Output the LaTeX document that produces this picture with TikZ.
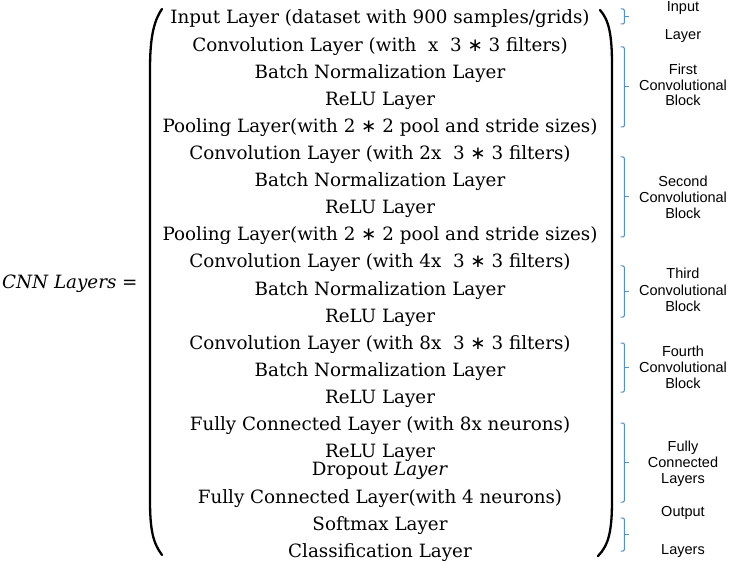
\documentclass[tikz,border=0pt]{standalone}
\usepackage{fontspec}
\setmainfont{DejaVu Serif}
\newfontfamily\lblfont{Liberation Sans}
\newfontfamily\symfont{DejaVu Sans}
\definecolor{bracecol}{RGB}{84,146,196}
\newcommand{\mulop}{{\symfont ∗}}
\begin{document}
\begin{tikzpicture}[x=1pt,y=-1pt,
  row/.style={anchor=base,inner sep=0pt,font=\fontsize{18.3}{21}\selectfont},
  lbl/.style={anchor=base,inner sep=0pt,font=\lblfont\fontsize{14.5}{17}\selectfont},
  paren/.style={line width=2.3pt,line cap=round},
  brc/.style={draw=bracecol,line width=1pt,rounded corners=1.2pt}]
\useasboundingbox (0,0) rectangle (736,561);
% left-hand side
\node[anchor=base west,inner sep=0pt,font=\fontsize{18.3}{21}\selectfont] (lhs) at (2,289) {\textit{CNN Layers} =};
% rows
\node[row] (r1)  at (380,24)    {Input Layer (dataset with 900 samples/grids)};
\node[row] (r2)  at (380,51.1)  {Convolution Layer (with \ x \ 3 \mulop{} 3 filters)};
\node[row] (r3)  at (380,78.2)  {Batch Normalization Layer};
\node[row] (r4)  at (380,105.3) {ReLU Layer};
\node[row] (r5)  at (380,132.4) {Pooling Layer(with 2 \mulop{} 2 pool and stride sizes)};
\node[row] (r6)  at (380,159.5) {Convolution Layer (with 2x \ 3 \mulop{} 3 filters)};
\node[row] (r7)  at (380,186.6) {Batch Normalization Layer};
\node[row] (r8)  at (380,213.7) {ReLU Layer};
\node[row] (r9)  at (380,240.8) {Pooling Layer(with 2 \mulop{} 2 pool and stride sizes)};
\node[row] (r10) at (380,267.9) {Convolution Layer (with 4x \ 3 \mulop{} 3 filters)};
\node[row] (r11) at (380,295)   {Batch Normalization Layer};
\node[row] (r12) at (380,322.1) {ReLU Layer};
\node[row] (r13) at (380,349.2) {Convolution Layer (with 8x \ 3 \mulop{} 3 filters)};
\node[row] (r14) at (380,376.3) {Batch Normalization Layer};
\node[row] (r15) at (380,403.4) {ReLU Layer};
\node[row] (r16) at (380,430)   {Fully Connected Layer (with 8x neurons)};
\node[row] (r17) at (380,457)   {ReLU Layer};
\node[row] (r18) at (380,475)   {Dropout \textit{Layer}};
\node[row] (r19) at (380,503)   {Fully Connected Layer(with 4 neurons)};
\node[row] (r20) at (380,530)   {Softmax Layer};
\node[row] (r21) at (380,557)   {Classification Layer};
% big parentheses
\draw[paren] (162,9) .. controls (153,22) and (150,40) .. (150,70) -- (150,500) .. controls (150,530) and (153,543) .. (162,555);
\draw[paren] (600,10) .. controls (609,20) and (612,35) .. (612,65) -- (612,500) .. controls (612,530) and (609,545) .. (598,556);
% blue braces
\foreach \t/\b in {9/24, 47/127, 157/237, 266/317, 343/392, 423/502, 518/551}{
  \draw[brc] (620.7,\t) -- (624.3,\t) -- (624.3,\b) -- (620.7,\b);
  \draw[draw=bracecol,line width=1pt] (624.3,{(\t+\b)/2}) -- (629,{(\t+\b)/2});
}
% right labels
\node[lbl] (inA) at (683,11.8) {Input};
\node[lbl] (inB) at (683,39.3) {Layer};
\node[lbl] (b1a) at (683,75) {First};
\node[lbl] (b1b) at (683,90.5) {Convolutional};
\node[lbl] (b1c) at (683,106) {Block};
\node[lbl] (b2a) at (683,187) {Second};
\node[lbl] (b2b) at (683,203) {Convolutional};
\node[lbl] (b2c) at (683,219) {Block};
\node[lbl] (b3a) at (683,279) {Third};
\node[lbl] (b3b) at (683,295) {Convolutional};
\node[lbl] (b3c) at (683,311) {Block};
\node[lbl] (b4a) at (683,356.7) {Fourth};
\node[lbl] (b4b) at (683,372.5) {Convolutional};
\node[lbl] (b4c) at (683,388) {Block};
\node[lbl] (fca) at (683,451.7) {Fully};
\node[lbl] (fcb) at (683,467.5) {Connected};
\node[lbl] (fcc) at (683,483.3) {Layers};
\node[lbl] (ouA) at (683,516.7) {Output};
\node[lbl] (ouB) at (683,554) {Layers};
\end{tikzpicture}
\end{document}
